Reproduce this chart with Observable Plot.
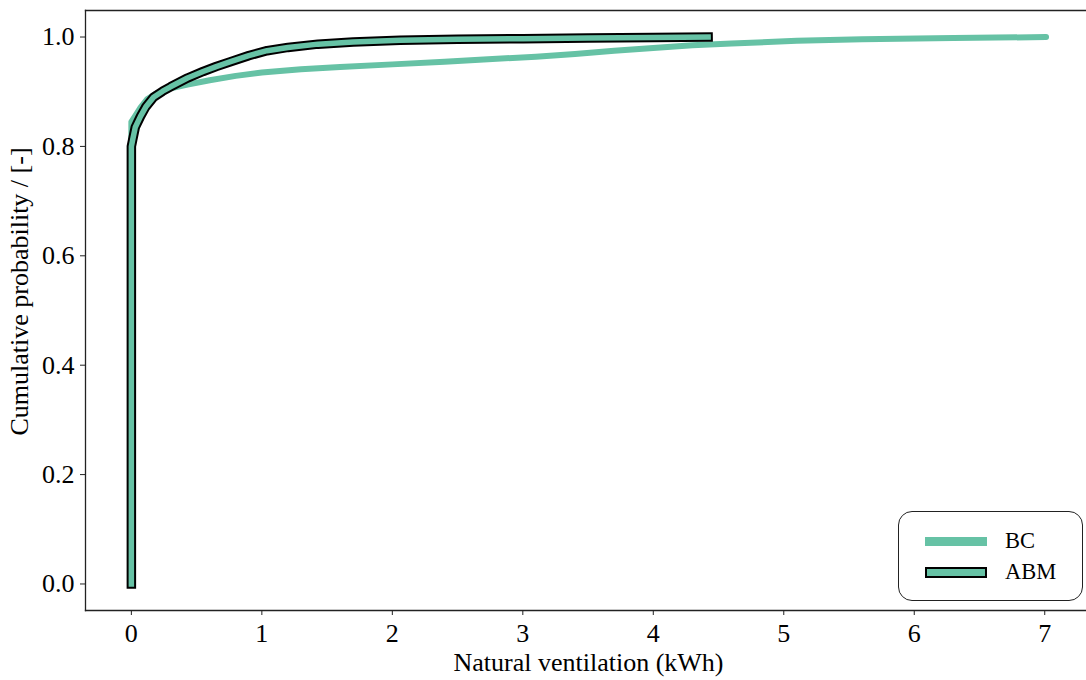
<!DOCTYPE html>
<html>
<head>
<meta charset="utf-8">
<script src="https://cdn.jsdelivr.net/npm/d3@7"></script>
<script src="https://cdn.jsdelivr.net/npm/@observablehq/plot@0.6"></script>
<style>
  html, body { margin: 0; padding: 0; background: #fff; overflow: hidden; }
  #wrap { position: relative; width: 1086px; height: 680px; font-family: "Liberation Serif", "DejaVu Serif", serif; }
  #legend { position: absolute; left: 898px; top: 511px; width: 185px; height: 90px; box-sizing: border-box;
            border: 1.3px solid #222; border-radius: 14px; background: #fff; }
  #legend .row { position: absolute; left: 26px; display: flex; align-items: center; font-size: 22.5px; color: #000; }
  #legend .sw { width: 62px; margin-right: 18px; box-sizing: border-box; }
</style>
</head>
<body>
<div id="wrap"></div>
<script>
// ---- data ----
const seriesNames = ["BC", "ABM"];
const bcX = [0, 0, 0.03, 0.07, 0.12, 0.2, 0.3, 0.43, 0.6, 0.8, 1.0, 1.3, 1.6, 2.0, 2.4, 2.7, 3.1, 3.4, 3.7, 4.0, 4.3, 4.6, 5.1, 5.6, 6.3, 7.01];
const bcY = [0, 0.845, 0.856, 0.871, 0.886, 0.898, 0.906, 0.913, 0.921, 0.929, 0.935, 0.941, 0.945, 0.950, 0.955, 0.959, 0.964, 0.969, 0.975, 0.980, 0.985, 0.988, 0.993, 0.996, 0.998, 1.0];
const abmX = [0, 0, 0.01, 0.03, 0.07, 0.11, 0.17, 0.24, 0.3, 0.43, 0.55, 0.65, 0.76, 0.9, 1.04, 1.2, 1.43, 1.7, 2.06, 2.5, 3.0, 3.5, 4.0, 4.42];
const abmY = [0, 0.80, 0.812, 0.835, 0.855, 0.872, 0.89, 0.901, 0.909, 0.925, 0.937, 0.946, 0.955, 0.966, 0.975, 0.981, 0.987, 0.991, 0.994, 0.996, 0.997, 0.998, 0.999, 1.0];
const xTicks = [0, 1, 2, 3, 4, 5, 6, 7];
const yTicks = [0, 0.2, 0.4, 0.6, 0.8, 1.0];
const xLabel = "Natural ventilation (kWh)";
const yLabel = "Cumulative probability / [-]";
const green = "#66c2a5";

const bc = bcX.map((x, i) => ({x, y: bcY[i]}));
const abm = abmX.map((x, i) => ({x, y: abmY[i]}));

const fontSize = 26;
const chart = Plot.plot({
  width: 1086,
  height: 680,
  marginLeft: 85,
  marginRight: 0,
  marginTop: 10,
  marginBottom: 70,
  style: { fontFamily: '"Liberation Serif", "DejaVu Serif", serif', background: "#fff", color: "#000" },
  x: { domain: [-0.3515, 7.32] },
  y: { domain: [-0.0485, 1.0485] },
  marks: [
    Plot.line(bc, {x: "x", y: "y", stroke: green, strokeWidth: 6, strokeLinecap: "round", strokeLinejoin: "round"}),
    Plot.line(abm, {x: "x", y: "y", stroke: "#000", strokeWidth: 9.5, strokeLinecap: "square", strokeLinejoin: "round"}),
    Plot.line(abm, {x: "x", y: "y", stroke: green, strokeWidth: 5.5, strokeLinecap: "square", strokeLinejoin: "round"}),
    Plot.frame({anchor: "left", stroke: "#222", strokeWidth: 1.3}),
    Plot.frame({anchor: "top", stroke: "#222", strokeWidth: 1.3}),
    Plot.frame({anchor: "bottom", stroke: "#222", strokeWidth: 1.3}),
    Plot.axisX({ticks: xTicks, tickFormat: d3.format("d"), tickSize: 5, tickPadding: 8, fontSize, label: null, stroke: "#222"}),
    Plot.axisY({ticks: yTicks, tickFormat: d3.format(".1f"), tickSize: 5, tickPadding: 6, fontSize, label: null, stroke: "#222"}),
    Plot.text([xLabel], {frameAnchor: "bottom", text: d => d, textAnchor: "middle", dx: 2.5, dy: 52, lineAnchor: "middle", fontSize, fill: "#000"}),
    Plot.text([yLabel], {frameAnchor: "left", text: d => d, textAnchor: "middle", rotate: -90, dx: -66, dy: -19, lineAnchor: "middle", fontSize, fill: "#000"})
  ]
});

const wrap = document.getElementById("wrap");
wrap.appendChild(chart);

// legend overlay
const legend = document.createElement("div");
legend.id = "legend";
const swatchStyles = [
  `height:9px;background:${green};`,
  `height:11px;background:${green};border:2px solid #000;`
];
seriesNames.forEach((name, i) => {
  const row = document.createElement("div");
  row.className = "row";
  row.style.top = (i === 0 ? 16 : 47) + "px";
  const sw = document.createElement("div");
  sw.className = "sw";
  sw.style.cssText += swatchStyles[i];
  const label = document.createElement("span");
  label.textContent = name;
  row.appendChild(sw);
  row.appendChild(label);
  legend.appendChild(row);
});
wrap.appendChild(legend);
</script>
</body>
</html>
